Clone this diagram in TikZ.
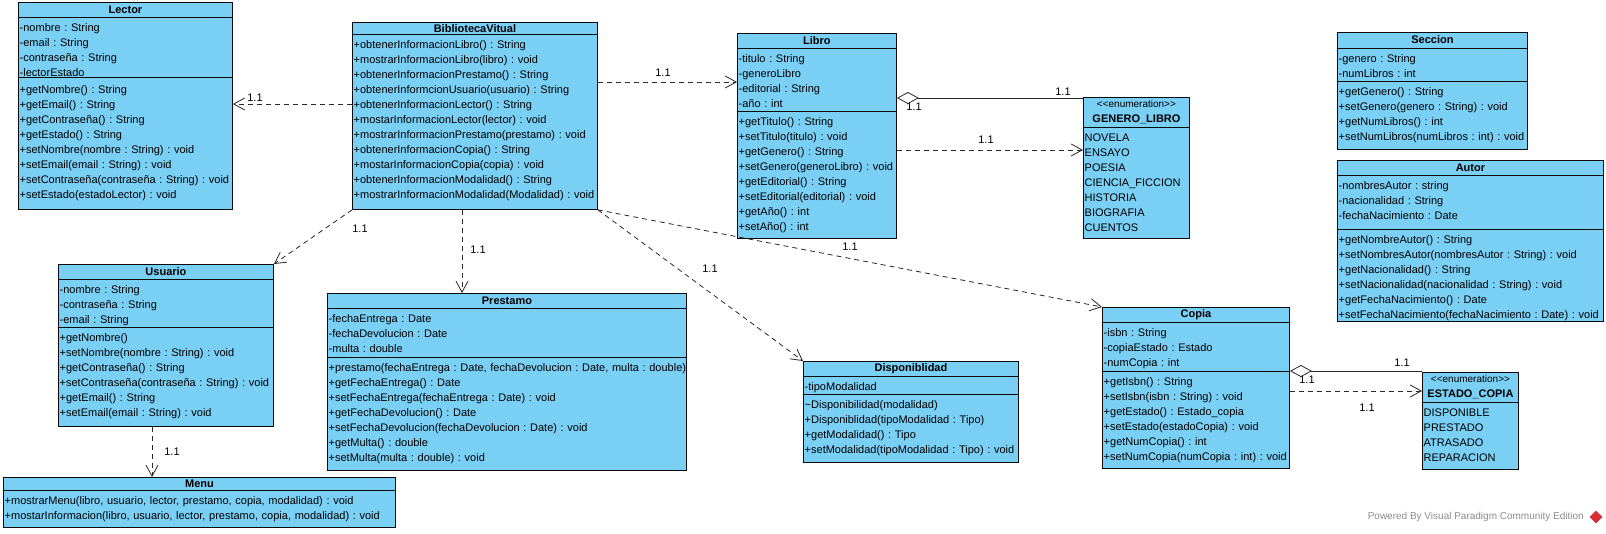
\documentclass[tikz,border=0pt]{standalone}
\usepackage{fontspec}
\setmainfont{Liberation Sans}
\usetikzlibrary{arrows.meta}
\frenchspacing

\definecolor{umlfill}{RGB}{122,207,245}
\definecolor{umlline}{RGB}{10,10,10}
\definecolor{linkcol}{RGB}{40,40,40}
\definecolor{wmgray}{RGB}{140,140,140}
\definecolor{vpred}{RGB}{215,45,50}

\begin{document}
\begin{tikzpicture}[
  x=1pt, y=-1pt,
  font=\fontsize{11}{15}\selectfont,
  >={Straight Barb[length=11pt,width=12pt]},
  cls/.style={draw=umlline,fill=umlfill,line width=0.9pt,anchor=north west,inner sep=0pt},
  head/.style={anchor=north,inner sep=0pt,minimum height=15pt,align=center,font=\fontsize{11}{15}\selectfont\bfseries},
  members/.style={anchor=north west,align=left,text width=420pt,inner xsep=1.5pt,inner ysep=4pt,execute at begin node=\strut},
  sep/.style={draw=umlline,line width=0.9pt},
  dep/.style={->,draw=linkcol,line width=0.8pt,dash pattern=on 5pt off 4pt},
  agg/.style={{Diamond[length=22pt,width=12pt,fill=white]}-,draw=linkcol,line width=0.8pt},
  mult/.style={inner sep=0pt,font=\fontsize{11}{13}\selectfont},
  wm/.style={inner sep=0pt,text=wmgray,font=\fontsize{10}{12}\selectfont},
]
\path[use as bounding box,fill=white] (0,0) rectangle (1606,533);

% Lector
\node[cls,minimum width=214,minimum height=207] (lector) at (18,2) {};
\node[head] (lector-name) at (lector.north) {Lector};
\node[members] (lector-attr) at (lector.west |- 0,17) {-nombre : String\\-email : String\\-contraseña : String\\-lectorEstado};
\node[members,inner ysep=5.5pt] (lector-ops) at (lector.west |- 0,77) {+getNombre() : String\\+getEmail() : String\\+getContraseña() : String\\+getEstado() : String\\+setNombre(nombre : String) : void\\+setEmail(email : String) : void\\+setContraseña(contraseña : String) : void\\+setEstado(estadoLector) : void};
\draw[sep] (lector.west |- 0,17) -- (lector.east |- 0,17);
\draw[sep] (lector.west |- 0,77) -- (lector.east |- 0,77);

% BibliotecaVitual
\node[cls,minimum width=245,minimum height=187] (biblio) at (352,22) {};
\node[head,minimum height=12] (biblio-name) at (biblio.north) {BibliotecaVitual};
\node[members] (biblio-ops) at (biblio.west |- 0,34) {+obtenerInformacionLibro() : String\\+mostrarInformacionLibro(libro) : void\\+obtenerInformacionPrestamo() : String\\+obtenerInformcionUsuario(usuario) : String\\+obtenerInformacionLector() : String\\+mostarInformacionLector(lector) : void\\+mostrarInformacionPrestamo(prestamo) : void\\+obtenerInformacionCopia() : String\\+mostarInformacionCopia(copia) : void\\+obtenerInformacionModalidad() : String\\+mostrarInformacionModalidad(Modalidad) : void};
\draw[sep] (biblio.west |- 0,34) -- (biblio.east |- 0,34);

% Libro
\node[cls,minimum width=159,minimum height=205] (libro) at (737,33) {};
\node[head] (libro-name) at (libro.north) {Libro};
\node[members] (libro-attr) at (libro.west |- 0,48) {-titulo : String\\-generoLibro\\-editorial : String\\-año : int};
\node[members] (libro-ops) at (libro.west |- 0,111) {+getTitulo() : String\\+setTitulo(titulo) : void\\+getGenero() : String\\+setGenero(generoLibro) : void\\+getEditorial() : String\\+setEditorial(editorial) : void\\+getAño() : int\\+setAño() : int};
\draw[sep] (libro.west |- 0,48) -- (libro.east |- 0,48);
\draw[sep] (libro.west |- 0,111) -- (libro.east |- 0,111);

% GENERO_LIBRO
\node[cls,minimum width=106,minimum height=141] (genero) at (1083,97) {};
\node[head,minimum height=30] (genero-name) at (genero.north) {{\mdseries\fontsize{10}{15}\selectfont <{}<enumeration>{}>}\\GENERO\_LIBRO};
\node[members] (genero-lit) at (genero.west |- 0,127) {NOVELA\\ENSAYO\\POESIA\\CIENCIA\_FICCION\\HISTORIA\\BIOGRAFIA\\CUENTOS};
\draw[sep] (genero.west |- 0,127) -- (genero.east |- 0,127);

% Seccion
\node[cls,minimum width=190,minimum height=117] (seccion) at (1337,32) {};
\node[head] (seccion-name) at (seccion.north) {Seccion};
\node[members] (seccion-attr) at (seccion.west |- 0,48) {-genero : String\\-numLibros : int};
\node[members] (seccion-ops) at (seccion.west |- 0,81) {+getGenero() : String\\+setGenero(genero : String) : void\\+getNumLibros() : int\\+setNumLibros(numLibros : int) : void};
\draw[sep] (seccion.west |- 0,48) -- (seccion.east |- 0,48);
\draw[sep] (seccion.west |- 0,81) -- (seccion.east |- 0,81);

% Autor
\node[cls,minimum width=266,minimum height=161] (autor) at (1337,160) {};
\node[head] (autor-name) at (autor.north) {Autor};
\node[members] (autor-attr) at (autor.west |- 0,175) {-nombresAutor : string\\-nacionalidad : String\\-fechaNacimiento : Date};
\node[members] (autor-ops) at (autor.west |- 0,229) {+getNombreAutor() : String\\+setNombresAutor(nombresAutor : String) : void\\+getNacionalidad() : String\\+setNacionalidad(nacionalidad : String) : void\\+getFechaNacimiento() : Date\\+setFechaNacimiento(fechaNacimiento : Date) : void};
\draw[sep] (autor.west |- 0,175) -- (autor.east |- 0,175);
\draw[sep] (autor.west |- 0,229) -- (autor.east |- 0,229);

% Usuario
\node[cls,minimum width=215,minimum height=162] (usuario) at (58,264) {};
\node[head] (usuario-name) at (usuario.north) {Usuario};
\node[members] (usuario-attr) at (usuario.west |- 0,279) {-nombre : String\\-contraseña : String\\-email : String};
\node[members] (usuario-ops) at (usuario.west |- 0,327) {+getNombre()\\+setNombre(nombre : String) : void\\+getContraseña() : String\\+setContraseña(contraseña : String) : void\\+getEmail() : String\\+setEmail(email : String) : void};
\draw[sep] (usuario.west |- 0,279) -- (usuario.east |- 0,279);
\draw[sep] (usuario.west |- 0,327) -- (usuario.east |- 0,327);

% Menu
\node[cls,minimum width=392,minimum height=50] (menu) at (3,477) {};
\node[head,minimum height=13] (menu-name) at (menu.north) {Menu};
\node[members] (menu-ops) at (menu.west |- 0,490) {+mostrarMenu(libro, usuario, lector, prestamo, copia, modalidad) : void\\+mostarInformacion(libro, usuario, lector, prestamo, copia, modalidad) : void};
\draw[sep] (menu.west |- 0,490) -- (menu.east |- 0,490);

% Prestamo
\node[cls,minimum width=359,minimum height=177] (prestamo) at (327,293) {};
\node[head] (prestamo-name) at (prestamo.north) {Prestamo};
\node[members] (prestamo-attr) at (prestamo.west |- 0,308) {-fechaEntrega : Date\\-fechaDevolucion : Date\\-multa : double};
\node[members] (prestamo-ops) at (prestamo.west |- 0,357) {+prestamo(fechaEntrega : Date, fechaDevolucion : Date, multa : double)\\+getFechaEntrega() : Date\\+setFechaEntrega(fechaEntrega : Date) : void\\+getFechaDevolucion() : Date\\+setFechaDevolucion(fechaDevolucion : Date) : void\\+getMulta() : double\\+setMulta(multa : double) : void};
\draw[sep] (prestamo.west |- 0,308) -- (prestamo.east |- 0,308);
\draw[sep] (prestamo.west |- 0,357) -- (prestamo.east |- 0,357);

% Disponiblidad
\node[cls,minimum width=215,minimum height=101] (disp) at (803,361) {};
\node[head] (disp-name) at (disp.north) {Disponiblidad};
\node[members] (disp-attr) at (disp.west |- 0,376) {-tipoModalidad};
\node[members] (disp-ops) at (disp.west |- 0,394) {\textasciitilde Disponibilidad(modalidad)\\+Disponiblidad(tipoModalidad : Tipo)\\+getModalidad() : Tipo\\+setModalidad(tipoModalidad : Tipo) : void};
\draw[sep] (disp.west |- 0,376) -- (disp.east |- 0,376);
\draw[sep] (disp.west |- 0,394) -- (disp.east |- 0,394);

% Copia
\node[cls,minimum width=187,minimum height=161] (copia) at (1102,307) {};
\node[head] (copia-name) at (copia.north) {Copia};
\node[members] (copia-attr) at (copia.west |- 0,322) {-isbn : String\\-copiaEstado : Estado\\-numCopia : int};
\node[members] (copia-ops) at (copia.west |- 0,371) {+getIsbn() : String\\+setIsbn(isbn : String) : void\\+getEstado() : Estado\_copia\\+setEstado(estadoCopia) : void\\+getNumCopia() : int\\+setNumCopia(numCopia : int) : void};
\draw[sep] (copia.west |- 0,322) -- (copia.east |- 0,322);
\draw[sep] (copia.west |- 0,371) -- (copia.east |- 0,371);

% ESTADO_COPIA
\node[cls,minimum width=96,minimum height=97] (estado) at (1422,372) {};
\node[head,minimum height=30] (estado-name) at (estado.north) {{\mdseries\fontsize{10}{15}\selectfont <{}<enumeration>{}>}\\ESTADO\_COPIA};
\node[members] (estado-lit) at (estado.west |- 0,402) {DISPONIBLE\\PRESTADO\\ATRASADO\\REPARACION};
\draw[sep] (estado.west |- 0,402) -- (estado.east |- 0,402);

% multiplicities
\node[mult] (m-lector) at (255,98) {1.1};
\node[mult] (m-libro) at (663,73) {1.1};
\node[mult] (m-usuario) at (360,229) {1.1};
\node[mult] (m-prestamo) at (478,250) {1.1};
\node[mult] (m-disp) at (710,269) {1.1};
\node[mult] (m-copia) at (850,247) {1.1};
\node[mult] (m-libro-agg) at (914,107) {1.1};
\node[mult] (m-genero-agg) at (1063,92) {1.1};
\node[mult] (m-genero-dep) at (986,140) {1.1};
\node[mult] (m-copia-agg) at (1307,380) {1.1};
\node[mult] (m-estado-agg) at (1402,363) {1.1};
\node[mult] (m-estado-dep) at (1367,408) {1.1};
\node[mult] (m-menu) at (172,452) {1.1};

% relations
\draw[dep] (biblio.west |- 0,104) -- (lector.east |- 0,104);
\draw[dep] (biblio.east |- 0,82) -- (libro.west |- 0,82);
\draw[dep] (biblio.south west) -- (usuario.north east);
\draw[dep] (biblio.south -| 462,0) -- (prestamo.north -| 462,0);
\draw[dep] (biblio.south east) -- (disp.north west);
\draw[dep] (biblio.south east) -- (copia.north west);
\draw[agg] (libro.east |- 0,98) -- (genero.west |- 0,98);
\draw[dep] (libro.east |- 0,150) -- (genero.west |- 0,150);
\draw[agg] (copia.east |- 0,371) -- (estado.west |- 0,371);
\draw[dep] (copia.east |- 0,391) -- (estado.west |- 0,391);
\draw[dep] (usuario.south -| 152,0) -- (menu.north -| 152,0);

% watermark
\node[wm,anchor=east] (powered) at (1584,517) {Powered By Visual Paradigm Community Edition};
\node[fill=vpred,rotate=45,minimum size=9pt,inner sep=0pt] (vplogo) at (1596,517) {};

\end{tikzpicture}
\end{document}
